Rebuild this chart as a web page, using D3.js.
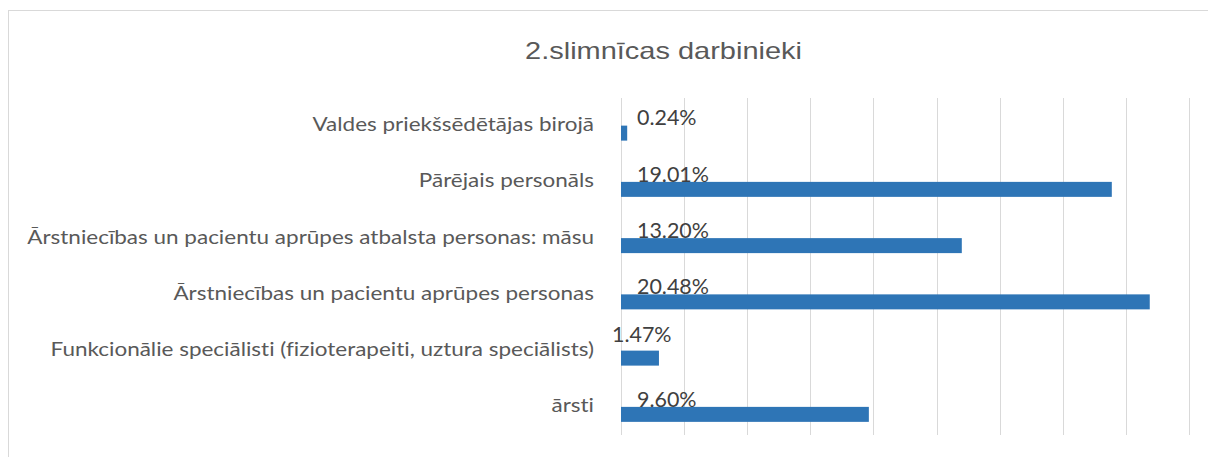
<!DOCTYPE html>
<html>
<head>
<meta charset="utf-8">
<title>2.slimnīcas darbinieki</title>
<style>
    body { margin: 0; background: #fff; }
    svg { display: block; }
    .cat-label { font-family: Lato, sans-serif; font-size: 18.5px; fill: #595959; font-variant-ligatures: none; }
    .val-label { font-family: Lato, sans-serif; font-size: 21px; fill: #404040; }
    .title { font-family: "Liberation Sans", Arial, sans-serif; font-size: 24px; fill: #595959; }
    .grid line { stroke: #d9d9d9; stroke-width: 1; }
</style>
</head>
<body>
<svg width="1208" height="457"></svg>
<script src="https://d3js.org/d3.v7.min.js"></script>
<script>
    // data, top to bottom as in the chart
    const categories = [
        "Valdes priekšsēdētājas birojā",
        "Pārējais personāls",
        "Ārstniecības un pacientu aprūpes atbalsta personas: māsu",
        "Ārstniecības un pacientu aprūpes personas",
        "Funkcionālie speciālisti (fizioterapeiti, uztura speciālists)",
        "ārsti"
    ];
    const shares = [0.24, 19.01, 13.20, 20.48, 1.47, 9.60];
    const shareLabels = ["0.24%", "19.01%", "13.20%", "20.48%", "1.47%", "9.60%"];
    const axisMax = 22;
    const gridSteps = 9;
    const title = "2.slimnīcas darbinieki";

    const margin = { top: 97.5, right: 19, bottom: 22, left: 621 };
    const width = 1208, height = 457;

    const svg = d3.select("svg");

    // chart border (only top and left edges are inside the picture)
    svg.append("rect")
        .attr("x", 8.5).attr("y", 10.5)
        .attr("width", 1400).attr("height", 600)
        .attr("fill", "#fff")
        .attr("stroke", "#d9d9d9");

    const x = d3.scaleLinear()
        .domain([0, axisMax])
        .range([margin.left, width - margin.right]);

    const y = d3.scaleBand()
        .domain(categories)
        .range([margin.top, height - margin.bottom])
        .paddingInner(0.467)
        .paddingOuter(0.2335);

    // two slots per category: label on top, bar below
    const slot = d3.scaleBand()
        .domain(["label", "bar"])
        .range([0, y.bandwidth()]);

    // vertical gridlines
    const gridVals = d3.range(gridSteps + 1).map(i => i * axisMax / gridSteps);
    svg.append("g")
        .attr("class", "grid")
        .call(d3.axisBottom(x).tickValues(gridVals).tickSize(-(y.range()[1] - y.range()[0])).tickFormat(""))
        .attr("transform", `translate(0,${y.range()[1]})`)
        .call(g => g.select(".domain").remove())
        .call(g => g.selectAll(".tick line").attr("shape-rendering", "crispEdges"));

    const rows = categories.map((c, i) => ({ cat: c, value: shares[i], label: shareLabels[i] }));

    // bars
    svg.append("g")
        .selectAll("rect")
        .data(rows)
        .join("rect")
        .attr("x", x(0))
        .attr("y", d => y(d.cat) + slot("bar"))
        .attr("width", d => x(d.value) - x(0))
        .attr("height", slot.bandwidth())
        .attr("fill", "#2e75b6");

    // text in the picture is stretched sideways, so each group gets a horizontal scale
    function stretch(sel, refNode, targetWidth) {
        const sx = targetWidth / refNode.getComputedTextLength();
        sel.each(function () {
            const t = d3.select(this);
            t.attr("transform", `translate(${t.attr("data-x")},${t.attr("data-y")}) scale(${sx},1)`);
        });
    }

    // category labels
    const catLabels = svg.append("g")
        .selectAll("text")
        .data(rows)
        .join("text")
        .attr("class", "cat-label")
        .attr("text-anchor", "end")
        .attr("dy", "0.35em")
        .attr("data-x", x(0) - 27)
        .attr("data-y", d => y(d.cat) + y.bandwidth() / 2 - 1)
        .text(d => d.cat);
    stretch(catLabels, catLabels.nodes()[4], 544);

    // value labels
    const valLabels = svg.append("g")
        .selectAll("text")
        .data(rows)
        .join("text")
        .attr("class", "val-label")
        .attr("dy", "0.35em")
        .attr("data-x", (d, i) => i === 4 ? x(0) - 9 : x(0) + 16)
        .attr("data-y", (d, i) => y(d.cat) + slot("label") + slot.bandwidth() / 2 - (i === 4 ? 8 : 0))
        .text(d => d.label);
    stretch(valLabels, valLabels.nodes()[1], 72);

    // title
    const titleText = svg.append("text")
        .attr("class", "title")
        .attr("text-anchor", "middle")
        .attr("data-x", 663.5)
        .attr("data-y", 59)
        .text(title);
    stretch(titleText, titleText.node(), 277);
</script>
</body>
</html>
